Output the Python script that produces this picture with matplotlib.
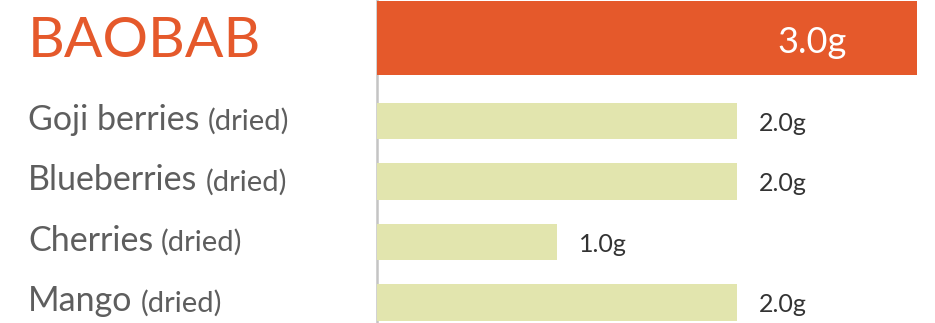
import numpy as np
import matplotlib.pyplot as plt
import matplotlib.transforms as mtransforms

names = ["BAOBAB", "Goji berries", "Blueberries", "Cherries", "Mango"]
notes = ["", "(dried)", "(dried)", "(dried)", "(dried)"]
values = [3.0, 2.0, 2.0, 1.0, 2.0]
value_labels = ["3.0g", "2.0g", "2.0g", "1.0g", "2.0g"]

orange = "#e5592b"
green = "#e2e5ae"
grey = "#5e5e5e"

plt.rcParams["font.family"] = ["Lato", "DejaVu Sans"]

fig = plt.figure(figsize=(9.35, 3.23), dpi=100)
ax = fig.add_axes([376.5 / 935, 0, 1 - 376.5 / 935, 1])

# first row is the highlighted one, then a bigger gap to the rest
pos = np.arange(len(names), dtype=float)
pos[1:] += 0.372
heights = [1.23] + [0.61] * (len(names) - 1)
colors = [orange] + [green] * (len(names) - 1)

ax.barh(pos, values, height=heights, color=colors, zorder=2)
ax.set_xlim(0, 3.1)
ax.set_ylim(4.711, -0.628)

for s in ["top", "right", "bottom"]:
    ax.spines[s].set_visible(False)
ax.spines["left"].set_color("#c4c4c4")
ax.spines["left"].set_linewidth(1.8)
ax.spines["left"].set_zorder(1)
ax.set_xticks([])
ax.set_yticks([])

lab = mtransforms.blended_transform_factory(fig.transFigure, ax.transData)

def shift(tr, dx=0, dy=0):
    return mtransforms.offset_copy(tr, fig=fig, x=dx, y=dy, units="dots")

# left labels
first_parts = []
for i, (n, p) in enumerate(zip(names, pos)):
    if i == 0:
        t = ax.text(28 / 935, p, n, transform=shift(lab, 0, -19), va="baseline",
                    ha="left", fontsize=41, color=orange)
    else:
        t = ax.text(28 / 935, p, n, transform=shift(lab, 0, -9), va="baseline",
                    ha="left", fontsize=24.5, color=grey)
    first_parts.append(t)

fig.canvas.draw()
r = fig.canvas.get_renderer()
for t, note, p in zip(first_parts, notes, pos):
    if not note:
        continue
    bb = t.get_window_extent(r)
    x1 = fig.transFigure.inverted().transform((bb.x1, 0))[0]
    ax.text(x1 + 8 / 935, p, note, transform=shift(lab, 0, -9), va="baseline",
            ha="left", fontsize=21, color=grey)

# value labels
for i, (v, s, p) in enumerate(zip(values, value_labels, pos)):
    if i == 0:
        ax.text(v, p, s, transform=shift(ax.transData, -70, -15), ha="right",
                va="baseline", fontsize=26, color="white")
    else:
        ax.text(v, p, s, transform=shift(ax.transData, 22, -10), ha="left",
                va="baseline", fontsize=18, color="#333333")

fig.savefig("out.png", dpi=100)
